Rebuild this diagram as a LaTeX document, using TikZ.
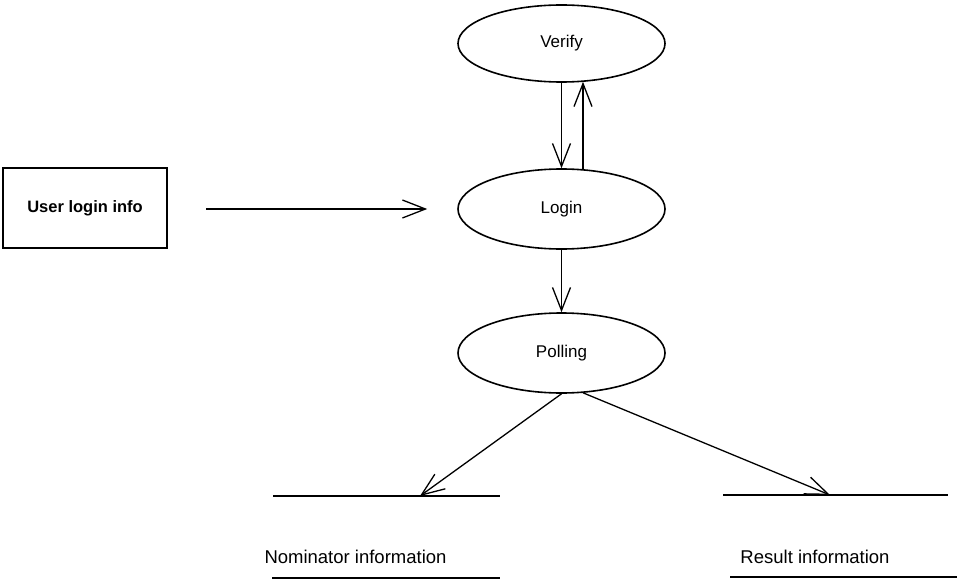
\documentclass[tikz,border=0pt]{standalone}
\usepackage{fontspec}
\setmainfont{Liberation Sans}
\usetikzlibrary{shapes.geometric,arrows.meta}
\begin{document}
\begin{tikzpicture}[x=1pt,y=-1pt,
  process/.style={ellipse,draw,line width=1.6pt,minimum width=207pt,minimum height=80pt,
    inner sep=0pt,font=\fontsize{17}{20}\selectfont},
  entity/.style={rectangle,draw,line width=2pt,minimum width=164pt,minimum height=80pt,
    inner sep=0pt,font=\bfseries\fontsize{16.5}{20}\selectfont},
  flow/.style={line width=1.3pt,-{Straight Barb[length=23pt,width=18pt,line width=1.3pt]}},
  storeline/.style={line width=1.6pt},
  storelabel/.style={inner sep=0pt,font=\fontsize{18.5}{22}\selectfont}]
\useasboundingbox (0,0) rectangle (957,580);

% processes
\node[process,minimum height=77pt] (verify) at (561.5,43.5) {Verify};
\node[process] (login) at (561.5,209) {Login};
\node[process] (polling) at (561.5,353) {Polling};

% external entity
\node[entity] (user) at (85,208) {User login info};

% data stores: top line, label, bottom line
\coordinate (nomL) at (273,496);
\coordinate (nomR) at (500,496);
\coordinate (nomIn) at (420,496);
\node[storelabel] (nomtext) at (355.5,557) {Nominator information};
\coordinate (nomUL) at (272,578);
\coordinate (nomUR) at (500,578);

\coordinate (resL) at (723,495);
\coordinate (resR) at (948,495);
\coordinate (resIn) at (830,495);
\node[storelabel] (restext) at (815,557) {Result information};
\coordinate (resUL) at (730,577);
\coordinate (resUR) at (957,577);

\draw[storeline] (nomL) -- (nomR);
\draw[storeline] (nomUL) -- (nomUR);
\draw[storeline] (resL) -- (resR);
\draw[storeline] (resUL) -- (resUR);

% data flows
\draw[flow] ([xshift=38pt,yshift=-1pt]user.east) -- ([xshift=-30pt]login.west);
\draw[flow] (verify.south) -- (login.north);
\draw[flow] ([xshift=21.5pt,yshift=-1pt]login.north) -- ([xshift=21.5pt,yshift=1pt]verify.south);
\draw[flow] (login.south) -- (polling.north);
\draw[flow] (polling.south) -- (nomIn);
\draw[flow] ([xshift=21.5pt,yshift=1pt]polling.south) -- (resIn);
\end{tikzpicture}
\end{document}
